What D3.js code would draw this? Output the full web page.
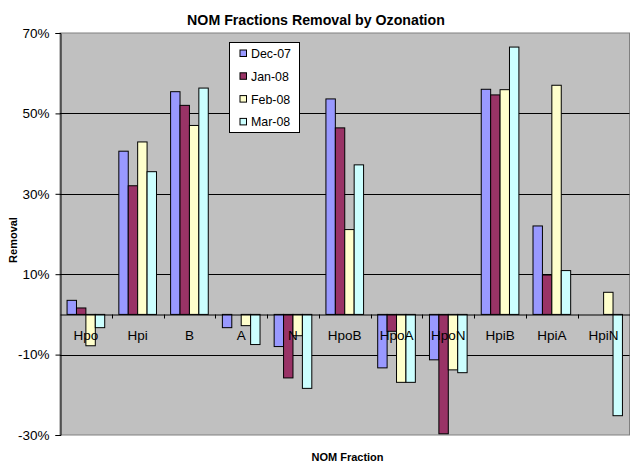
<!DOCTYPE html>
<html>
<head>
<meta charset="utf-8">
<script src="https://cdn.jsdelivr.net/npm/d3@7"></script>
<style>
  html, body { margin: 0; padding: 0; background: #fff; }
  svg { display: block; font-family: "Liberation Sans", Arial, sans-serif; }
</style>
</head>
<body>
<svg id="chart" width="630" height="464"></svg>
<script>
const categories = ["Hpo", "Hpi", "B", "A", "N", "HpoB", "HpoA", "HpoN", "HpiB", "HpiA", "HpiN"];
const seriesNames = ["Dec-07", "Jan-08", "Feb-08", "Mar-08"];
const seriesColors = ["#9999FF", "#993366", "#FFFFCC", "#CCFFFF"];
const dec07 = [3.5, 40.6, 55.4, -3.3, -8.0, 53.6, -13.3, -11.3, 56.0, 22.0, null];
const jan08 = [1.6, 32.0, 52.0, 0, -15.8, 46.4, -4.2, -29.7, 54.6, 9.8, null];
const feb08 = [-7.8, 42.9, 47.0, -2.8, -5.3, 21.1, -16.9, -13.8, 55.9, 57.0, 5.5];
const mar08 = [-3.3, 35.5, 56.3, -7.5, -18.4, 37.2, -16.9, -14.5, 66.5, 10.9, -25.2];
const yTicks = [70, 50, 30, 10, -10, -30];

const seriesValues = [dec07, jan08, feb08, mar08];

const svg = d3.select("#chart");
const plot = { left: 60, right: 629.5, top: 33, bottom: 435 };

const x = d3.scaleBand().domain(categories).range([plot.left, plot.right]).paddingInner(0).paddingOuter(0);
const xs = d3.scaleBand().domain(seriesNames).range([0, x.bandwidth()]).paddingInner(0).paddingOuter(0.75);
const y = d3.scaleLinear().domain([-30, 70]).range([plot.bottom, plot.top]);

// plot area background
svg.append("rect")
  .attr("x", plot.left).attr("y", plot.top)
  .attr("width", plot.right - plot.left).attr("height", plot.bottom - plot.top)
  .attr("fill", "#C0C0C0").attr("stroke", "#808080").attr("stroke-width", 1);

// gridlines
svg.append("g").selectAll("line")
  .data(yTicks.filter(t => t !== 70 && t !== -30))
  .join("line")
  .attr("x1", plot.left).attr("x2", plot.right)
  .attr("y1", d => Math.round(y(d)) + 0.5).attr("y2", d => Math.round(y(d)) + 0.5)
  .attr("stroke", "#000").attr("stroke-width", 1);

// bars
const barData = [];
seriesValues.forEach((vals, si) => {
  vals.forEach((v, ci) => {
    if (v !== null) barData.push({ s: seriesNames[si], si, c: categories[ci], v });
  });
});
svg.append("g").selectAll("rect")
  .data(barData)
  .join("rect")
  .attr("x", d => x(d.c) + xs(d.s))
  .attr("width", xs.bandwidth())
  .attr("y", d => y(Math.max(0, d.v)))
  .attr("height", d => Math.abs(y(d.v) - y(0)))
  .attr("fill", d => seriesColors[d.si])
  .attr("stroke", "#000").attr("stroke-width", 1);

// y axis
const yAxis = d3.axisLeft(y).tickValues(yTicks).tickSize(5).tickPadding(6)
  .tickFormat(d => d + "%");
const yg = svg.append("g").attr("transform", `translate(${plot.left + 0.5},0)`).call(yAxis);
yg.select(".domain").attr("stroke", "#000");
yg.selectAll(".tick line").attr("stroke", "#000");
yg.selectAll(".tick text").attr("font-size", 13.5).attr("fill", "#000")
  .attr("font-family", "'Liberation Sans', Arial, sans-serif");

// x axis at zero
const zeroY = Math.round(y(0)) + 0.5;
const xAxis = d3.axisBottom(x).tickSize(0).tickPadding(16);
const xg = svg.append("g").attr("transform", `translate(0,${zeroY})`).call(xAxis);
xg.select(".domain").attr("stroke", "#000");
xg.selectAll(".tick text").attr("font-size", 13.5).attr("fill", "#000")
  .attr("font-family", "'Liberation Sans', Arial, sans-serif");
// category boundary tick marks
xg.append("g").selectAll("line")
  .data(categories.slice(1))
  .join("line")
  .attr("x1", d => Math.round(x(d)) + 0.5).attr("x2", d => Math.round(x(d)) + 0.5)
  .attr("y1", 0).attr("y2", 4)
  .attr("stroke", "#000");

// titles
svg.append("text").attr("x", 316).attr("y", 24.5).attr("text-anchor", "middle")
  .attr("font-size", 14.2).attr("font-weight", "bold").text("NOM Fractions Removal by Ozonation");
svg.append("text").attr("x", 347.5).attr("y", 460.5).attr("text-anchor", "middle")
  .attr("font-size", 11).attr("font-weight", "bold").text("NOM Fraction");
svg.append("text").attr("transform", `translate(16.5,240) rotate(-90)`)
  .attr("text-anchor", "middle")
  .attr("font-size", 11).attr("font-weight", "bold").text("Removal");

// legend
const lg = svg.append("g").attr("transform", "translate(229.5,42.5)");
lg.append("rect").attr("width", 70).attr("height", 90).attr("fill", "#fff").attr("stroke", "#000");
seriesNames.forEach((s, i) => {
  const row = lg.append("g").attr("transform", `translate(0,${11 + i * 22.8})`);
  row.append("rect").attr("x", 10.5).attr("y", -3.5).attr("width", 6.5).attr("height", 6.5)
    .attr("fill", seriesColors[i]).attr("stroke", "#000");
  row.append("text").attr("x", 21.5).attr("y", 4.4).attr("font-size", 12.4).text(s);
});
</script>
</body>
</html>
